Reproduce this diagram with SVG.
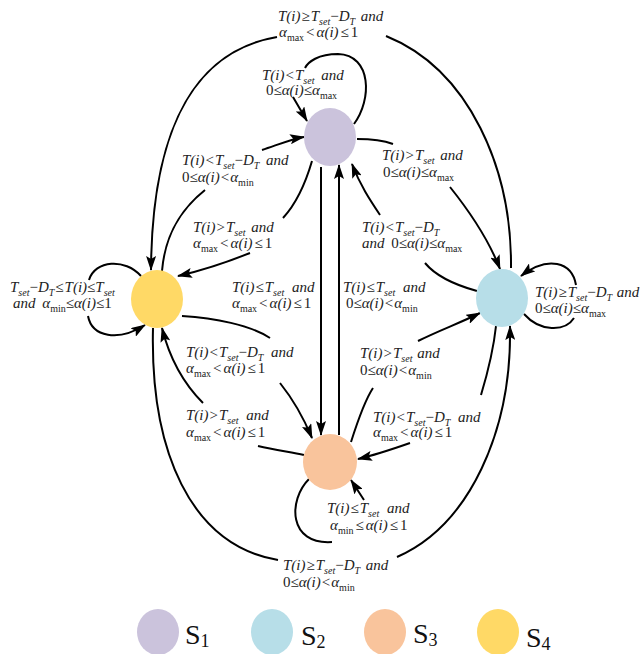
<svg xmlns="http://www.w3.org/2000/svg" width="640" height="654" viewBox="0 0 640 654">
<style>
.e{fill:none;stroke:#000;stroke-width:2}
.a{marker-end:url(#ah)}
text{font-family:'Liberation Serif',serif}
.l{font-size:15px;font-style:italic;fill:#222}
.u{font-style:normal}
.s{font-size:10px}
.lg{font-size:28px;fill:#111}
.lgs{font-size:18px}
</style>
<defs>
<marker id="ah" viewBox="0 0 15 10" refX="14" refY="5" markerWidth="15" markerHeight="10" orient="auto" markerUnits="userSpaceOnUse"><path d="M0,0 L15,5 L0,10 L3,5 z" fill="#000"/></marker>
</defs>
<g id="edges">
<path class="e" d="M511,268 C512,170 470,70 386,36"/>
<path class="e a" d="M277,37 C200,50 152,120 151,270"/>
<path class="e a" d="M162,271 C165,235 180,210 205,190 M262,150 C280,144 292,139 304,137"/>
<path class="e a" d="M312,161 C305,185 295,205 283,218 M250,253 C225,263 200,271 178,276"/>
<path class="e a" d="M354,124 C372,100 372,55 338,54 C318,54 308,62 305,68 M293,97 L307,121"/>
<path class="e a" d="M357,139 C372,139 385,141 393,144 M450,187 C470,212 488,238 500,269"/>
<path class="e a" d="M477,291 C455,285 435,275 425,263 M380,215 C370,200 360,185 352,164"/>
<path class="e a" d="M321,167 L321,435"/>
<path class="e a" d="M339,435 L339,165"/>
<path class="e a" d="M182,316 C215,318 250,325 270,338 M280,383 C292,398 302,414 312,438"/>
<path class="e a" d="M304,455 C290,452 275,450 258,446 M203,403 C185,385 170,360 162,328"/>
<path class="e a" d="M141,276 C125,258 95,260 89,280 M88,316 C92,337 118,342 145,325"/>
<path class="e a" d="M524,314 C540,332 565,332 574,318 M576,285 C572,262 548,255 521,276"/>
<path class="e a" d="M309,479 C288,500 288,545 332,542 M364,500 L351,480"/>
<path class="e a" d="M153,328 C150,450 190,545 278,560 M397,557 C470,525 512,430 510,326"/>
<path class="e a" d="M351,442 C358,420 365,400 373,388 M418,341 C440,330 460,323 480,313"/>
<path class="e a" d="M496,326 C494,345 490,365 481,395 M410,443 C390,450 375,455 358,459"/>
</g>
<g id="S1"><ellipse cx="330" cy="137" rx="26" ry="29" fill="#cbc3dc"/></g>
<g id="S2"><ellipse cx="502" cy="298" rx="26" ry="29" fill="#b7dee8"/></g>
<g id="S3"><ellipse cx="330" cy="462" rx="27" ry="28" fill="#f9c49c"/></g>
<g id="S4"><ellipse cx="157" cy="299" rx="26" ry="29" fill="#ffd966"/></g>
<g id="labels">
<text class="l" x="278" y="21">T(i)<tspan class="u" dx="1">≥</tspan><tspan dx="1">T</tspan><tspan class="s" dy="4">set</tspan><tspan class="u" dy="-4">−</tspan>D<tspan class="s" dy="4">T</tspan><tspan dy="-4" dx="2"> and</tspan></text>
<text class="l" x="279" y="37">α<tspan class="s u" dy="4">max</tspan><tspan class="u" dy="-4" dx="2">&lt;</tspan><tspan dx="2">α(i)</tspan><tspan class="u" dx="2">≤</tspan><tspan class="u" dx="2">1</tspan></text>

<text class="l" x="262" y="80">T(i)<tspan class="u" dx="1">&lt;</tspan><tspan dx="1">T</tspan><tspan class="s" dy="4">set</tspan><tspan dy="-4" dx="3"> and</tspan></text>
<text class="l" x="266" y="95"><tspan class="u">0≤</tspan>α(i)<tspan class="u">≤</tspan>α<tspan class="s u" dy="4">max</tspan></text>

<text class="l" x="182" y="165">T(i)<tspan class="u" dx="1">&lt;</tspan><tspan dx="1">T</tspan><tspan class="s" dy="4">set</tspan><tspan class="u" dy="-4">−</tspan>D<tspan class="s" dy="4">T</tspan><tspan dy="-4" dx="3"> and</tspan></text>
<text class="l" x="182" y="182"><tspan class="u">0≤</tspan>α(i)<tspan class="u" dx="1">&lt;</tspan><tspan dx="1">α</tspan><tspan class="s u" dy="4">min</tspan></text>

<text class="l" x="193" y="232">T(i)<tspan class="u" dx="1">&gt;</tspan><tspan dx="1">T</tspan><tspan class="s" dy="4">set</tspan><tspan dy="-4" dx="2"> and</tspan></text>
<text class="l" x="193" y="248">α<tspan class="s u" dy="4">max</tspan><tspan class="u" dy="-4" dx="2">&lt;</tspan><tspan dx="2">α(i)</tspan><tspan class="u" dx="2">≤</tspan><tspan class="u" dx="2">1</tspan></text>

<text class="l" x="382" y="160">T(i)<tspan class="u" dx="1">&gt;</tspan><tspan dx="1">T</tspan><tspan class="s" dy="4">set</tspan><tspan dy="-4" dx="2"> and</tspan></text>
<text class="l" x="383" y="177"><tspan class="u">0≤</tspan>α(i)<tspan class="u">≤</tspan>α<tspan class="s u" dy="4">max</tspan></text>

<text class="l" x="362" y="232">T(i)<tspan class="u" dx="1">&lt;</tspan><tspan dx="1">T</tspan><tspan class="s" dy="4">set</tspan><tspan class="u" dy="-4">−</tspan>D<tspan class="s" dy="4">T</tspan></text>
<text class="l" x="362" y="248">and <tspan class="u" dx="3">0≤</tspan>α(i)<tspan class="u">≤</tspan>α<tspan class="s u" dy="4">max</tspan></text>

<text class="l" x="10" y="292">T<tspan class="s" dy="4">set</tspan><tspan class="u" dy="-4">−</tspan>D<tspan class="s" dy="4">T</tspan><tspan class="u" dy="-4" dx="1">≤</tspan><tspan dx="1">T(i)</tspan><tspan class="u">≤</tspan>T<tspan class="s" dy="4">set</tspan></text>
<text class="l" x="13" y="308">and <tspan dx="3">α</tspan><tspan class="s u" dy="4">min</tspan><tspan class="u" dy="-4">≤</tspan>α(i)<tspan class="u">≤1</tspan></text>

<text class="l" x="535" y="297">T(i)<tspan class="u" dx="1">≥</tspan><tspan dx="1">T</tspan><tspan class="s" dy="4">set</tspan><tspan class="u" dy="-4">−</tspan>D<tspan class="s" dy="4">T</tspan><tspan dy="-4" dx="1"> and</tspan></text>
<text class="l" x="535" y="313"><tspan class="u">0≤</tspan>α(i)<tspan class="u">≤</tspan>α<tspan class="s u" dy="4">max</tspan></text>

<text class="l" x="232" y="292">T(i)<tspan class="u" dx="1">≤</tspan><tspan dx="1">T</tspan><tspan class="s" dy="4">set</tspan><tspan dy="-4" dx="4"> and</tspan></text>
<text class="l" x="232" y="308">α<tspan class="s u" dy="4">max</tspan><tspan class="u" dy="-4" dx="2">&lt;</tspan><tspan dx="2">α(i)</tspan><tspan class="u" dx="2">≤</tspan><tspan class="u" dx="2">1</tspan></text>

<text class="l" x="343" y="292">T(i)<tspan class="u" dx="1">≤</tspan><tspan dx="1">T</tspan><tspan class="s" dy="4">set</tspan><tspan dy="-4" dx="4"> and</tspan></text>
<text class="l" x="346" y="308"><tspan class="u">0≤</tspan>α(i)<tspan class="u" dx="1">&lt;</tspan><tspan dx="1">α</tspan><tspan class="s u" dy="4">min</tspan></text>

<text class="l" x="186" y="357">T(i)<tspan class="u" dx="1">&lt;</tspan><tspan dx="1">T</tspan><tspan class="s" dy="4">set</tspan><tspan class="u" dy="-4">−</tspan>D<tspan class="s" dy="4">T</tspan><tspan dy="-4" dx="4"> and</tspan></text>
<text class="l" x="186" y="373">α<tspan class="s u" dy="4">max</tspan><tspan class="u" dy="-4" dx="2">&lt;</tspan><tspan dx="2">α(i)</tspan><tspan class="u" dx="2">≤</tspan><tspan class="u" dx="2">1</tspan></text>

<text class="l" x="186" y="420">T(i)<tspan class="u" dx="1">&gt;</tspan><tspan dx="1">T</tspan><tspan class="s" dy="4">set</tspan><tspan dy="-4" dx="4"> and</tspan></text>
<text class="l" x="186" y="437">α<tspan class="s u" dy="4">max</tspan><tspan class="u" dy="-4" dx="2">&lt;</tspan><tspan dx="2">α(i)</tspan><tspan class="u" dx="2">≤</tspan><tspan class="u" dx="2">1</tspan></text>

<text class="l" x="360" y="358">T(i)<tspan class="u" dx="1">&gt;</tspan><tspan dx="1">T</tspan><tspan class="s" dy="4">set</tspan><tspan dy="-4" dx="1"> and</tspan></text>
<text class="l" x="360" y="375"><tspan class="u">0≤</tspan>α(i)<tspan class="u" dx="1">&lt;</tspan><tspan dx="1">α</tspan><tspan class="s u" dy="4">min</tspan></text>

<text class="l" x="373" y="422">T(i)<tspan class="u" dx="1">&lt;</tspan><tspan dx="1">T</tspan><tspan class="s" dy="4">set</tspan><tspan class="u" dy="-4">−</tspan>D<tspan class="s" dy="4">T</tspan><tspan dy="-4" dx="4"> and</tspan></text>
<text class="l" x="373" y="437">α<tspan class="s u" dy="4">max</tspan><tspan class="u" dy="-4" dx="2">&lt;</tspan><tspan dx="2">α(i)</tspan><tspan class="u" dx="2">≤</tspan><tspan class="u" dx="2">1</tspan></text>

<text class="l" x="327" y="513">T(i)<tspan class="u" dx="1">≤</tspan><tspan dx="1">T</tspan><tspan class="s" dy="4">set</tspan><tspan dy="-4" dx="4"> and</tspan></text>
<text class="l" x="330" y="530">α<tspan class="s u" dy="4">min</tspan><tspan class="u" dy="-4" dx="2">≤</tspan><tspan dx="2">α(i)</tspan><tspan class="u" dx="2">≤</tspan><tspan class="u" dx="2">1</tspan></text>

<text class="l" x="283" y="570">T(i)<tspan class="u" dx="1">≥</tspan><tspan dx="1">T</tspan><tspan class="s" dy="4">set</tspan><tspan class="u" dy="-4">−</tspan>D<tspan class="s" dy="4">T</tspan><tspan dy="-4" dx="2"> and</tspan></text>
<text class="l" x="283" y="587"><tspan class="u">0≤</tspan>α(i)<tspan class="u" dx="1">&lt;</tspan><tspan dx="1">α</tspan><tspan class="s u" dy="4">min</tspan></text>
</g>
<g id="legend">
<g id="legend-S1"><ellipse cx="158" cy="632" rx="21" ry="23" fill="#cbc3dc"/><text class="lg" x="185" y="644">S<tspan class="lgs" dy="3">1</tspan></text></g>
<g id="legend-S2"><ellipse cx="272" cy="632" rx="21" ry="23" fill="#b7dee8"/><text class="lg" x="301" y="645">S<tspan class="lgs" dy="3">2</tspan></text></g>
<g id="legend-S3"><ellipse cx="385" cy="632" rx="21" ry="23" fill="#f9c49c"/><text class="lg" x="413" y="643">S<tspan class="lgs" dy="3">3</tspan></text></g>
<g id="legend-S4"><ellipse cx="498" cy="632" rx="21" ry="23" fill="#ffd966"/><text class="lg" x="526" y="647">S<tspan class="lgs" dy="3">4</tspan></text></g>
</g>
</svg>
